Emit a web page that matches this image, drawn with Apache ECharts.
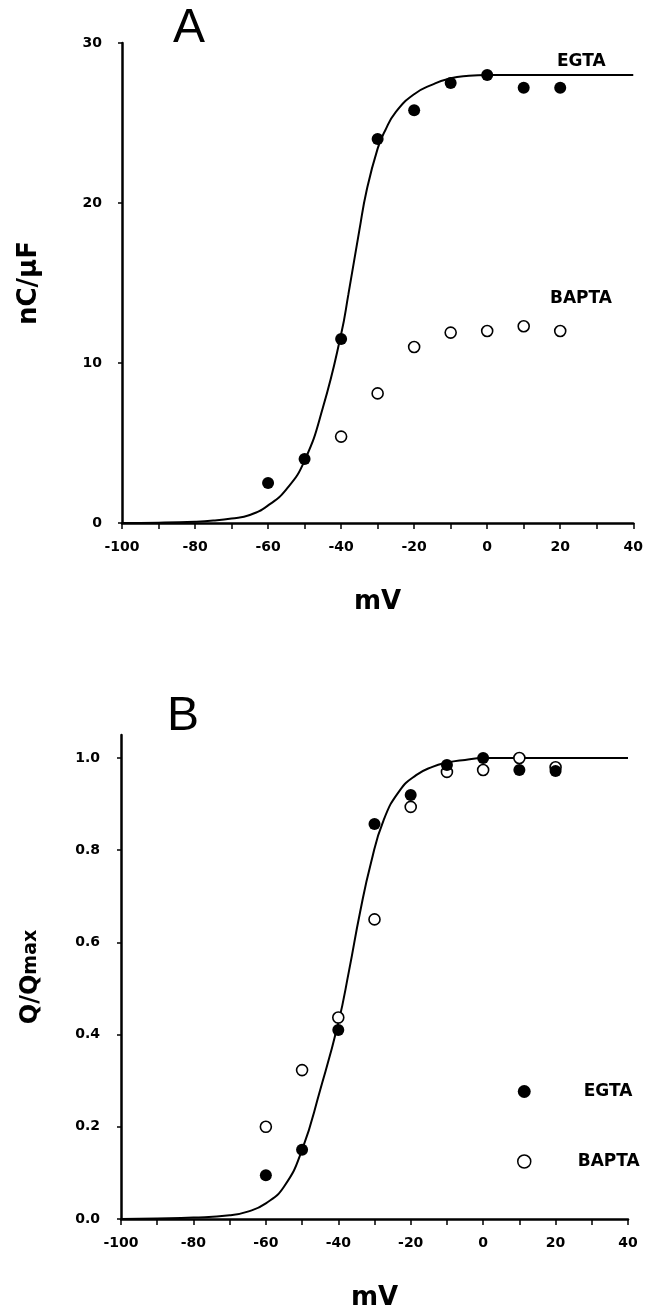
<!DOCTYPE html>
<html>
<head>
<meta charset="utf-8">
<script src="https://cdn.jsdelivr.net/npm/echarts@6/dist/echarts.min.js"></script>
<style>
  html, body { margin: 0; padding: 0; background: #fff; }
  #chart { width: 646px; height: 1316px; }
</style>
</head>
<body>
<div id="chart"></div>
<script>
// ---- Data ----
const voltagesEGTA = [-60, -50, -40, -30, -20, -10, 0, 10, 20];
const egtaA = [2.5, 4.0, 11.5, 24.0, 25.8, 27.5, 28.0, 27.2, 27.2];
const voltagesBAPTA_A = [-40, -30, -20, -10, 0, 10, 20];
const baptaA = [5.4, 8.1, 11.0, 11.9, 12.0, 12.3, 12.0];

const fitAV = [-100, -90, -80, -75, -70, -65, -60, -55, -50, -45, -40, -38, -35, -33, -30, -28, -25, -20, -15, -10, -5, 0, 10, 20, 30, 40];
const fitA  = [0, 0.02, 0.08, 0.15, 0.28, 0.5, 1.1, 2.1, 3.9, 7.2, 11.8, 14.3, 18.3, 20.8, 23.4, 24.5, 25.7, 26.8, 27.4, 27.8, 27.95, 28, 28, 28, 28, 28];

const voltagesB = [-60, -50, -40, -30, -20, -10, 0, 10, 20];
const egtaB  = [0.095, 0.15, 0.41, 0.857, 0.92, 0.985, 1.0, 0.974, 0.972];
const baptaB = [0.20, 0.323, 0.437, 0.65, 0.894, 0.97, 0.974, 1.0, 0.98];

const fitBV = [-100, -90, -80, -70, -65, -60, -55, -50, -45, -40, -37, -34, -31, -27.5, -23, -18.5, -14, -10, -5, 0, 10, 20, 30, 40];
const fitB  = [0, 0.001, 0.003, 0.008, 0.016, 0.034, 0.07, 0.15, 0.28, 0.425, 0.54, 0.665, 0.772, 0.865, 0.93, 0.963, 0.981, 0.99, 0.996, 1.0, 1.0, 1.0, 1.0, 1.0];

const xTicks = [-100, -80, -60, -40, -20, 0, 20, 40];
const yTicksA = [0, 10, 20, 30];
const yTicksB = [0, 0.2, 0.4, 0.6, 0.8, 1.0];

const zip = (xs, ys) => xs.map((x, i) => [x, ys[i]]);

// ---- Styles ----
const FONT = 'DejaVu Sans';
const axisLine = { show: true, onZero: false, lineStyle: { color: '#000', width: 2.5 } };
const tickStyle = (len) => ({ show: true, inside: false, length: len, lineStyle: { color: '#000', width: 1.5 } });
const labelBase = { color: '#000', fontFamily: FONT, fontWeight: 'bold', fontSize: 14 };

function xAxisFor(gridIndex) {
  return {
    type: 'value', gridIndex, min: -100, max: 40, interval: 10,
    axisLine, axisTick: tickStyle(6), splitLine: { show: false },
    axisLabel: Object.assign({}, labelBase, {
      margin: 17,
      formatter: v => (xTicks.indexOf(v) >= 0 ? String(v) : '')
    }),
    name: 'mV', nameLocation: 'middle', nameGap: 66,
    nameTextStyle: { color: '#000', fontFamily: FONT, fontWeight: 'bold', fontSize: 26 }
  };
}

const filled = { color: '#000', opacity: 1 };
const open = { color: '#fff', borderColor: '#000', borderWidth: 1.6, opacity: 1 };

const option = {
  backgroundColor: '#fff',
  animation: false,
  grid: [
    { left: 122, right: 12, top: 43, bottom: 793, containLabel: false },
    { left: 121, right: 18, top: 735, bottom: 97, containLabel: false }
  ],
  xAxis: [xAxisFor(0), xAxisFor(1)],
  yAxis: [
    {
      type: 'value', gridIndex: 0, min: 0, max: 30, interval: 10,
      axisLine, axisTick: tickStyle(4), splitLine: { show: false },
      axisLabel: Object.assign({}, labelBase, { margin: 20 }),
      name: 'nC/\u03BCF', nameLocation: 'middle', nameGap: 80,
      nameTextStyle: { color: '#000', fontFamily: FONT, fontWeight: 'bold', fontSize: 26 }
    },
    {
      type: 'value', gridIndex: 1, min: 0, max: 1.05, interval: 0.2,
      axisLine,
      axisTick: Object.assign(tickStyle(4), { customValues: yTicksB }),
      splitLine: { show: false },
      axisLabel: Object.assign({}, labelBase, {
        margin: 21, customValues: yTicksB,
        formatter: v => Number(v).toFixed(1)
      }),
      name: '{a|Q/Q}{b|max}', nameLocation: 'middle', nameGap: 78,
      nameTextStyle: {
        color: '#000', fontFamily: FONT, fontWeight: 'bold', fontSize: 22,
        rich: {
          a: { fontFamily: FONT, fontWeight: 'bold', fontSize: 24, color: '#000' },
          b: { fontFamily: FONT, fontWeight: 'bold', fontSize: 19, color: '#000' }
        }
      }
    }
  ],
  legend: {
    orient: 'vertical', left: 517, top: 1083, padding: 0,
    itemWidth: 13, itemHeight: 13, itemGap: 53,
    selectedMode: false,
    textStyle: { color: '#000', fontFamily: FONT, fontWeight: 'bold', fontSize: 17 },
    data: [
      { name: 'EGTA', icon: 'circle', itemStyle: { color: '#000', borderWidth: 0, opacity: 1 },
        textStyle: { padding: [0, 0, 0, 48] } },
      { name: 'BAPTA', icon: 'circle', itemStyle: { color: '#fff', borderColor: '#000', borderWidth: 1.5, opacity: 1 },
        textStyle: { padding: [0, 0, 0, 42] } }
    ]
  },
  series: [
    { name: 'fitA', type: 'line', xAxisIndex: 0, yAxisIndex: 0, data: zip(fitAV, fitA),
      showSymbol: false, smooth: 0.5, lineStyle: { color: '#000', width: 2 }, z: 2 },
    { name: 'EGTA', type: 'scatter', xAxisIndex: 0, yAxisIndex: 0, data: zip(voltagesEGTA, egtaA),
      symbol: 'circle', symbolSize: 12, itemStyle: filled, z: 3 },
    { name: 'BAPTA', type: 'scatter', xAxisIndex: 0, yAxisIndex: 0, data: zip(voltagesBAPTA_A, baptaA),
      symbol: 'circle', symbolSize: 11, itemStyle: open, z: 3 },

    { name: 'fitB', type: 'line', xAxisIndex: 1, yAxisIndex: 1, data: zip(fitBV, fitB),
      showSymbol: false, smooth: 0.5, lineStyle: { color: '#000', width: 2 }, z: 2 },
    { name: 'BAPTA', type: 'scatter', xAxisIndex: 1, yAxisIndex: 1, data: zip(voltagesB, baptaB),
      symbol: 'circle', symbolSize: 11, itemStyle: open, z: 3 },
    { name: 'EGTA', type: 'scatter', xAxisIndex: 1, yAxisIndex: 1, data: zip(voltagesB, egtaB),
      symbol: 'circle', symbolSize: 12, itemStyle: filled, z: 4 }
  ],
  graphic: [
    { type: 'text', x: 189, y: 29, style: { text: 'A', fill: '#000', font: 'normal 48px "Liberation Sans"', align: 'center', verticalAlign: 'middle' } },
    { type: 'text', x: 183, y: 717, style: { text: 'B', fill: '#000', font: 'normal 48px "Liberation Sans"', align: 'center', verticalAlign: 'middle' } },
    { type: 'text', x: 557, y: 62, style: { text: 'EGTA', fill: '#000', font: 'bold 17px "DejaVu Sans"', align: 'left', verticalAlign: 'middle' } },
    { type: 'text', x: 550, y: 299, style: { text: 'BAPTA', fill: '#000', font: 'bold 17px "DejaVu Sans"', align: 'left', verticalAlign: 'middle' } }
  ]
};

const chart = echarts.init(document.getElementById('chart'), null, { renderer: 'canvas' });
chart.setOption(option);
</script>
</body>
</html>
